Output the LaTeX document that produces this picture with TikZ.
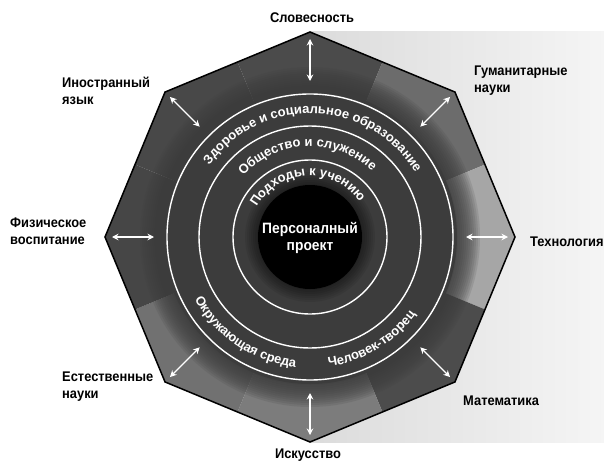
\documentclass[tikz,border=0pt]{standalone}
\usepackage{fontspec}
\setmainfont{Liberation Sans}[FakeStretch=0.92]
\newfontfamily\ringfam{Liberation Sans}
\usetikzlibrary{arrows.meta,decorations.text}
\definecolor{slov}{HTML}{4B4B4B}
\definecolor{gum}{HTML}{6C6C6C}
\definecolor{tech}{HTML}{A6A6A6}
\definecolor{math}{HTML}{4C4C4C}
\definecolor{isk}{HTML}{7C7C7C}
\definecolor{est}{HTML}{717171}
\definecolor{fiz}{HTML}{464646}
\definecolor{ino}{HTML}{484848}
\definecolor{inner}{HTML}{3C3C3C}
\newcommand\ringfont{\ringfam\bfseries\fontsize{13}{13}\selectfont}
\begin{document}
\begin{tikzpicture}[x=1pt, y=1pt,
  lbl/.style={font=\bfseries\fontsize{14}{17}\selectfont, align=left, inner sep=0pt},
  ringtext/.style={decorate, decoration={text along path, text align=center, text color=white, text={|\ringfont|#1}}}]
\useasboundingbox (-310,-226) rectangle (294,237);
\shade[left color=gray!28, right color=gray!8] (0,-205) rectangle (294,205);
\foreach \a/\c in {90/slov, 45/gum, 0/tech, -45/math, -90/isk, -135/est, 180/fiz, 135/ino}
  \fill[\c] (0,0) -- ({\a-22.5}:189.4) -- (\a:205) -- ({\a+22.5}:189.4) -- cycle;
\foreach \r in {148,150,...,170}
  \fill[inner, opacity=0.14] (0,0) circle (\r);
\fill[inner] (0,0) circle (147);
\foreach \r in {53,55,...,65}
  \fill[black, opacity=0.07] (0,0) circle (\r);
\foreach \r in {143,111,77}
  \draw[white, line width=1.4pt] (0,0) circle (\r);
\fill[black] (0,0) circle (52);
\draw[line width=1.5pt] (0:205) -- (45:205) -- (90:205) -- (135:205) -- (180:205) -- (225:205) -- (270:205) -- (315:205) -- cycle;
\foreach \a [count=\i] in {90,45,0,-45,-90,-135,180,135} {
  \coordinate (in\i) at (\a:156);
  \coordinate (out\i) at (\a:198);
  \draw[white, line width=1.3pt, {Stealth[length=6.5pt,width=6.5pt]}-{Stealth[length=6.5pt,width=6.5pt]}] (in\i) -- (out\i);
}
\path[ringtext={Здоровье и социальное образование}] (178:123.5) arc[start angle=178, end angle=-2, radius=123.5];
\path[ringtext={Общество и служение}] (182:90.5) arc[start angle=182, end angle=2, radius=90.5];
\path[ringtext={Подходы к учению}] (183:61) arc[start angle=183, end angle=3, radius=61];
\path[ringtext={Окружающая среда}] (186:131) arc[start angle=186, end angle=286, radius=131];
\path[ringtext={Человек-творец}] (261:131) arc[start angle=261, end angle=341, radius=131];
\node[font=\bfseries\fontsize{15}{17}\selectfont, text=white, align=center] (proj) at (0,-1) {Персоналный\\проект};
\node[lbl] (slovlbl) at (2,219) {Словесность};
\node[lbl, anchor=west] (gumlbl) at (164,156) {Гуманитарные\\науки};
\node[lbl, anchor=west] (techlbl) at (220,-5) {Технология};
\node[lbl, anchor=west] (mathlbl) at (153,-164) {Математика};
\node[lbl] (isklbl) at (-2,-218) {Искусство};
\node[lbl, anchor=west] (estlbl) at (-248,-150) {Естественные\\науки};
\node[lbl, anchor=west] (fizlbl) at (-300,6) {Физическое\\воспитание};
\node[lbl, anchor=west] (inolbl) at (-248,146) {Иностранный\\язык};
\end{tikzpicture}
\end{document}
